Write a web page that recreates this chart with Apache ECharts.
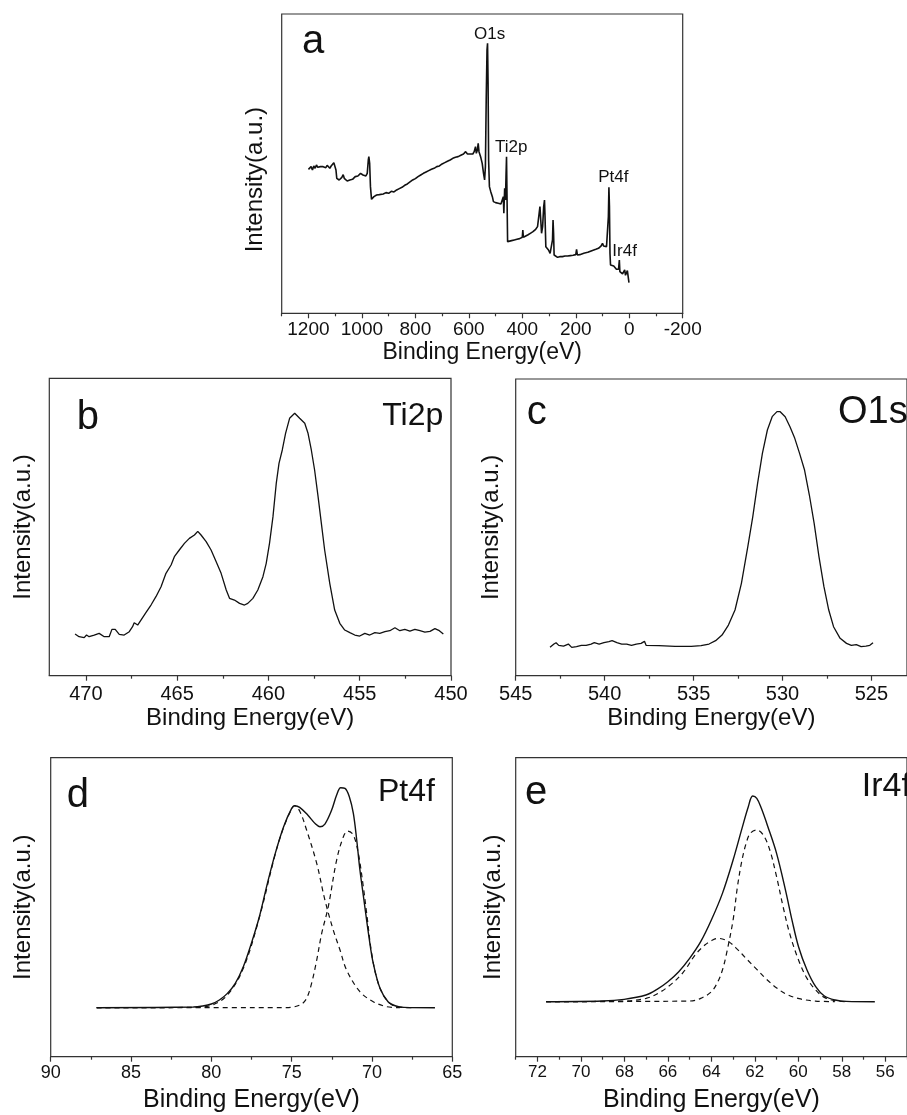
<!DOCTYPE html>
<html><head><meta charset="utf-8">
<script src="https://cdn.jsdelivr.net/npm/echarts@6/dist/echarts.min.js"></script>
<style>html,body{margin:0;padding:0;background:#fff}#chart{width:907px;height:1115px}</style>
</head><body><div id="chart"></div>
<script>
// ---------- Panel a: survey spectrum ----------
const surveyEnergy = [1200,1195,1190,1185,1180,1175,1170,1165,1160,1155,1150,1145,1140,1135,1130,1125,1120,1115,1110,1105,1100,1097,1094,1090,1085,1080,1075,1070,1066,1060,1055,1050,1045,1040,1035,1030,1025,1020,1015,1010,1005,1000,996,992,985,980,976,974,971,968,964,960,955,950,945,940,935,930,920,910,900,890,880,870,860,850,840,830,820,810,800,790,780,770,760,750,740,730,720,710,700,690,680,670,660,650,640,630,620,612,605,600,595,590,585,580,575,572,568,565,562,556,550,545,541,538,535,532,530,528,526,523,518,512,508,500,490,480,474,471,469,466,463,461,459,457,455,450,440,430,420,410,400,398,396,390,380,370,360,350,343,337,334,331,328,324,320,317,315,312,308,302,296,290,287,285,283,281,275,268,260,250,240,230,220,210,200,197,194,185,170,155,140,125,115,105,100,96,90,85,80,78,76,74,72,70,65,58,52,48,44,40,37,35,30,25,20,17,14,10,7,4,1];
const surveyIntensity = [432,428,440,430,442,435,445,438,444,440,446,440,443,437,444,440,435,442,445,452,457,430,405,402,400,404,408,416,405,400,397,402,400,404,402,407,410,408,412,415,420,425,415,410,412,420,460,470,450,380,342,345,350,348,355,352,356,354,358,362,360,366,364,370,374,378,384,388,394,400,404,410,415,420,424,428,432,435,440,442,448,452,456,460,465,468,470,474,478,485,478,474,478,474,478,485,500,480,490,510,485,470,450,420,400,440,640,790,810,690,460,380,365,350,335,332,330,328,328,350,300,375,340,410,470,340,215,215,218,220,222,224,228,250,228,230,235,240,245,252,260,300,320,280,240,260,320,340,290,200,195,190,180,180,220,280,240,175,172,168,170,170,172,172,173,174,176,192,175,176,180,183,188,192,195,202,210,202,198,200,205,290,378,320,180,145,140,142,138,132,128,132,160,125,122,118,115,130,114,120,128,110,92];
const surveyMajorTicks = [1200,1000,800,600,400,200,0,-200];
const surveyMinorTicks = [1300,1100,900,700,500,300,100,-100];

// ---------- Panel b: Ti2p ----------
const ti2pEnergy = [470.59,470.37,470.09,469.96,469.82,469.54,469.27,468.99,468.72,468.57,468.39,468.17,467.90,467.62,467.44,467.35,467.16,466.98,466.71,466.43,466.16,465.88,465.61,465.33,465.15,464.88,464.60,464.33,464.05,463.87,463.69,463.41,463.14,462.86,462.59,462.31,462.13,461.86,461.58,461.31,461.13,
  460.85,460.58,460.30,460.12,459.94,459.75,459.57,459.42,459.24,459.06,458.84,458.56,458.29,458.01,457.83,457.65,457.47,457.28,457.10,456.92,456.64,456.37,456.09,455.82,455.54,455.27,455.00,454.72,454.45,454.17,453.90,453.62,453.35,453.07,452.80,452.53,452.25,451.98,451.70,451.43,451.15,450.88,450.64,450.42];
const ti2pIntensity = [125,117,114,122,117,122,127,117,117,139,139,124,122,132,147,159,152,167,189,212,237,267,307,332,357,377,397,412,422,433,422,402,377,342,307,257,232,227,217,212,217,
  232,257,297,337,397,477,577,637,677,727,772,787,772,757,727,677,617,537,457,377,277,197,157,137,129,122,119,127,122,129,127,132,135,144,135,139,134,139,135,131,133,141,135,125];
const ti2pMajorTicks = [470,465,460,455,450];
const ti2pMinorTicks = [467.5,462.5,457.5,452.5];

// ---------- Panel c: O1s ----------
const o1sEnergy = [543.07,542.85,542.73,542.58,542.31,542.04,541.85,541.58,541.31,541.04,540.76,540.58,540.31,540.04,539.76,539.58,539.31,539.04,538.76,538.49,538.22,537.95,537.76,537.67,536.95,536.04,535.13,534.58,534.13,533.76,533.40,533.04,532.67,532.31,531.95,531.67,531.40,531.13,530.85,530.58,530.31,530.13,529.85,529.58,529.31,529.04,528.76,528.49,528.22,527.95,527.67,527.40,527.13,526.76,526.40,526.13,525.85,525.58,525.31,525.09,524.91];
const o1sIntensity = [85,95,99,91,89,95,85,87,91,91,95,99,95,99,102,105,99,95,95,91,95,97,103,91,90,88,88,90,95,105,122,152,197,277,387,477,577,667,737,777,792,792,777,747,712,667,617,542,457,357,267,197,147,112,97,91,93,87,89,91,99];
const o1sMajorTicks = [545,540,535,530,525];
const o1sMinorTicks = [542.5,537.5,532.5,527.5];

// ---------- Panel d: Pt4f ----------
const pt4fEnergy = [87.14,81.12,80.54,80.00,79.50,79.00,78.51,78.01,77.51,77.01,76.51,76.02,75.50,75.00,74.81,74.50,74.00,73.51,73.24,72.93,72.51,72.20,71.95,71.68,71.41,71.16,70.95,70.75,70.50,70.19,69.92,69.50,69.00,68.51,68.01,66.08];
const pt4fTotal = [147,149,152,158,170,190,220,270,340,420,520,610,690,745,753,748,725,698,690,698,740,785,807,805,780,730,650,560,470,360,280,205,165,152,148,147];
const pt4fFit1Energy = [87.14,81.12,80.00,79.00,78.01,77.01,76.02,75.50,75.00,74.81,74.48,74.07,73.44,72.93,72.41,71.99,71.58,70.75,69.92,69.09,68.26];
const pt4fFit1 = [147,148,154,185,265,418,608,688,743,753,735,680,580,470,380,320,260,195,165,150,147];
const pt4fFit2Energy = [87.14,75.52,74.90,74.38,74.07,73.76,73.44,73.13,72.72,72.20,71.78,71.51,71.16,70.85,70.54,70.33,70.02,69.61,69.09,68.46,67.43];
const pt4fFit2 = [147,147,149,158,175,220,290,370,450,590,660,677,665,610,510,430,310,220,170,150,147];
const pt4fMajorTicks = [90,85,80,75,70,65];
const pt4fMinorTicks = [87.5,82.5,77.5,72.5,67.5];

// ---------- Panel e: Ir4f ----------
const ir4fEnergy = [71.60,69.00,68.01,67.01,66.50,66.00,65.50,65.00,64.49,64.00,63.49,63.00,62.59,62.30,62.10,61.91,61.70,61.40,61.00,60.59,60.29,59.99,59.60,59.20,58.80,58.30,57.79,56.48];
const ir4fTotal = [165,167,172,185,202,225,255,295,345,410,490,590,685,750,782,775,745,690,610,500,410,330,260,210,182,170,166,165];
const ir4fFit1Energy = [71.60,68.01,67.00,66.40,65.80,65.27,64.75,64.30,64.00,63.70,63.25,62.80,62.36,61.91,61.46,61.01,60.56,59.96,59.21,58.32];
const ir4fFit1 = [165,167,175,192,220,255,305,335,348,355,347,322,292,262,232,207,188,174,167,165];
const ir4fFit2Energy = [71.60,65.00,64.49,64.00,63.70,63.49,63.30,63.00,62.80,62.59,62.40,62.21,61.91,61.61,61.31,61.00,60.70,60.40,59.99,59.60,59.20,58.80,58.30,57.79];
const ir4fFit2 = [165,167,175,195,225,260,310,410,510,590,640,670,680,665,620,540,450,370,290,235,200,178,168,165];
const ir4fMajorTicks = [72,70,68,66,64,62,60,58,56];
const ir4fMinorTicks = [73,71,69,67,65,63,61,59,57,55];

// ---------- helpers ----------
const FONT = "'Liberation Sans', Arial, Helvetica, sans-serif";
const INK = '#111';
const FRAME = '#333';
const zip = (xs, ys) => xs.slice(0, Math.min(xs.length, ys.length)).map((x, i) => [x, ys[i]]);

function xAxes(grid, min, max, majors, minors, o) {
  return [{
    type: 'value', gridIndex: grid, position: 'bottom', min: min, max: max, inverse: true,
    name: 'Binding Energy(eV)', nameLocation: 'middle', nameGap: o.nameGap,
    nameTextStyle: { fontSize: o.nameSize, color: INK, fontFamily: FONT },
    axisLine: { show: true, onZero: false, lineStyle: { color: FRAME, width: 1.2 } },
    axisTick: { show: true, inside: false, length: 5, customValues: majors, lineStyle: { color: FRAME, width: 1.2 } },
    axisLabel: { show: true, customValues: majors, margin: o.margin, fontSize: o.labelSize, color: INK, fontFamily: FONT,
      formatter: v => String(v) },
    splitLine: { show: false }, minorTick: { show: false }
  }, {
    type: 'value', gridIndex: grid, position: 'bottom', offset: 0, min: min, max: max, inverse: true,
    axisLine: { show: false, onZero: false },
    axisTick: { show: true, inside: false, length: 3, customValues: minors, lineStyle: { color: FRAME, width: 1.2 } },
    axisLabel: { show: false }, splitLine: { show: false }
  }];
}
function yAxis(grid, max, gap, extra) {
  return {
    type: 'value', gridIndex: grid, min: 0, max: max,
    axisLine: { show: false }, axisTick: { show: false }, axisLabel: { show: false }, splitLine: { show: false },
    name: 'Intensity(a.u.)', nameLocation: 'middle', nameGap: gap, nameRotate: 90,
    nameTextStyle: Object.assign({ fontSize: 24, color: INK, fontFamily: FONT }, extra || {})
  };
}
function line(xi, yi, data, dashed, width, smooth) {
  return {
    type: 'line', xAxisIndex: xi, yAxisIndex: yi, data: data, showSymbol: false, symbol: 'none',
    smooth: smooth || false, animation: false, silent: true,
    lineStyle: { color: INK, width: width || 1.3, type: dashed ? [5, 4] : 'solid' }
  };
}
function txt(x, y, s, size, align) {
  return { type: 'text', x: x, y: y, silent: true,
    style: { text: s, fontSize: size, fontFamily: FONT, fill: INK, align: align || 'left', verticalAlign: 'middle' } };
}

const gridStyle = { show: true, borderColor: FRAME, borderWidth: 1.2, backgroundColor: 'transparent' };
const option = {
  backgroundColor: '#fff',
  animation: false,
  grid: [
    Object.assign({ left: 281.7, top: 14, width: 401, height: 299.3 }, gridStyle),
    Object.assign({ left: 49.3, top: 378.3, width: 401.7, height: 297.4 }, gridStyle),
    Object.assign({ left: 515.7, top: 379, width: 401.7, height: 296.7 }, gridStyle),
    Object.assign({ left: 50.7, top: 757.7, width: 401.6, height: 299 }, gridStyle),
    Object.assign({ left: 515.7, top: 757.7, width: 401.7, height: 299 }, gridStyle)
  ],
  xAxis: [].concat(
    xAxes(0, -200, 1300, surveyMajorTicks, surveyMinorTicks, { nameGap: 28, nameSize: 23, margin: 7, labelSize: 19 }),
    xAxes(1, 450, 472, ti2pMajorTicks, ti2pMinorTicks, { nameGap: 31, nameSize: 24, margin: 9, labelSize: 20 }),
    xAxes(2, 523, 545, o1sMajorTicks, o1sMinorTicks, { nameGap: 31, nameSize: 24, margin: 9, labelSize: 20 }),
    xAxes(3, 65, 90, pt4fMajorTicks, pt4fMinorTicks, { nameGap: 31, nameSize: 25, margin: 7, labelSize: 18 }),
    xAxes(4, 55, 73, ir4fMajorTicks, ir4fMinorTicks, { nameGap: 31, nameSize: 25, margin: 7, labelSize: 17 })
  ),
  yAxis: [
    yAxis(0, 898, 14, { padding: [0, 32, 0, 0] }),
    yAxis(1, 892, 14),
    yAxis(2, 890, 12),
    yAxis(3, 897, 15),
    yAxis(4, 897, 10)
  ],
  series: [
    line(0, 0, zip(surveyEnergy, surveyIntensity), false, 1.6),
    line(2, 1, zip(ti2pEnergy, ti2pIntensity), false, 1.3),
    line(4, 2, zip(o1sEnergy, o1sIntensity), false, 1.3),
    line(6, 3, zip(pt4fEnergy, pt4fTotal), false, 1.4, 0.35),
    line(6, 3, zip(pt4fFit1Energy, pt4fFit1), true, 1.2, 0.35),
    line(6, 3, zip(pt4fFit2Energy, pt4fFit2), true, 1.2, 0.35),
    line(8, 4, zip(ir4fEnergy, ir4fTotal), false, 1.4, 0.35),
    line(8, 4, zip(ir4fFit1Energy, ir4fFit1), true, 1.2, 0.35),
    line(8, 4, zip(ir4fFit2Energy, ir4fFit2), true, 1.2, 0.35)
  ],
  graphic: [
    txt(302, 42, 'a', 40),
    txt(489.7, 34, 'O1s', 17, 'center'),
    txt(495, 147, 'Ti2p', 17),
    txt(613.3, 177, 'Pt4f', 17, 'center'),
    txt(612.3, 251, 'Ir4f', 17),
    txt(76.7, 418, 'b', 40),
    txt(443.3, 416, 'Ti2p', 32, 'right'),
    txt(526.7, 413, 'c', 40),
    txt(838, 413, 'O1s', 38),
    txt(66.7, 796, 'd', 40),
    txt(378, 792, 'Pt4f', 32),
    txt(525, 793, 'e', 40),
    txt(861.7, 787, 'Ir4f', 34)
  ]
};
const chart = echarts.init(document.getElementById('chart'), null, { renderer: 'canvas', width: 907, height: 1115 });
chart.setOption(option);
</script></body></html>
